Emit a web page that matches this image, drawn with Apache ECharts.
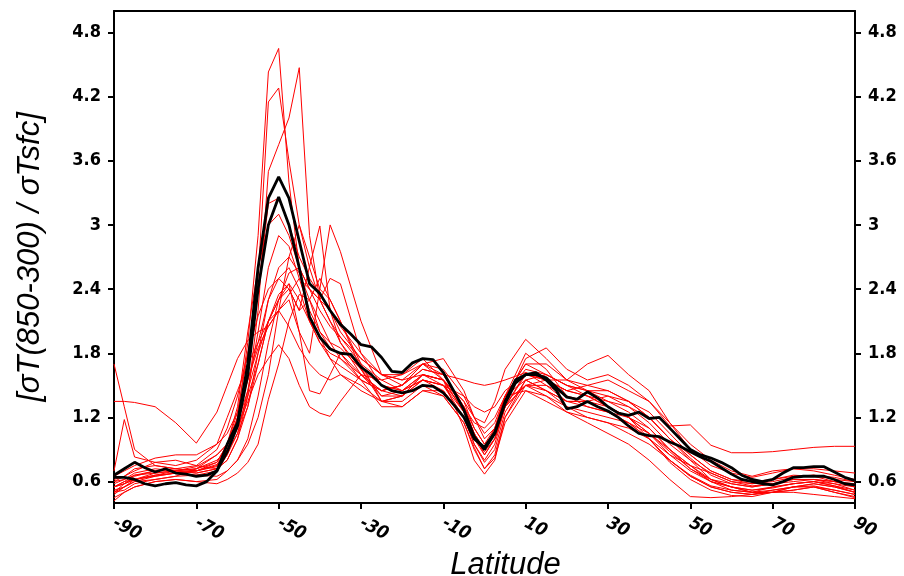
<!DOCTYPE html>
<html><head><meta charset="utf-8">
<script src="https://cdn.jsdelivr.net/npm/echarts@6/dist/echarts.min.js"></script>
<style>html,body{margin:0;padding:0;background:#fff}#c{width:904px;height:576px}</style>
</head><body><div id="c"></div>
<script>
// latitude grid of the model curves (red)
const latR = [-90,-87.5,-85,-80,-75,-70,-65,-62.5,-60,-57.5,-55,-52.5,-50,-47.5,-45,-42.5,-40,-37.5,-35,-30,-25,-20,-15,-10,-5,-2.5,0,2.5,5,10,15,20,25,30,35,40,45,50,55,60,65,70,75,80,85,90];
const r1 = [0.55,0.6,0.66,0.7,0.72,0.7,0.74, 0.9,1.2,1.9,2.9,4.43,4.65,3.4,2.6,2.1,1.9,1.75,1.68, 1.55,1.45,1.5,1.65,1.6,1.3,1.05,0.85,1.0,1.3, 1.62,1.5,1.35,1.3,1.25,1.2,1.05,0.85,0.7,0.6,0.55,0.5,0.52,0.55,0.56,0.52,0.48];
const r2 = [0.62,0.65,0.7,0.78,0.8,0.75,0.72, 0.8,1.0,1.4,2.2,3.5,3.75,4.0,4.47,2.9,2.3,2.1,1.95, 1.7,1.55,1.6,1.7,1.55,1.25,1.0,0.9,1.1,1.4, 1.55,1.6,1.5,1.45,1.35,1.3,1.2,1.0,0.85,0.7,0.62,0.58,0.6,0.64,0.66,0.62,0.6];
const r3 = [0.5,0.52,0.58,0.62,0.65,0.66,0.7, 0.85,1.15,1.7,2.5,4.15,4.28,3.6,3.0,2.6,2.3,2.1,1.9, 1.65,1.4,1.45,1.6,1.55,1.35,1.1,0.95,1.05,1.35, 1.5,1.45,1.3,1.2,1.15,1.1,1.0,0.8,0.65,0.55,0.5,0.48,0.5,0.52,0.55,0.5,0.46];
const r4 = [0.6,0.65,0.72,0.75,0.72,0.7,0.75, 0.95,1.3,2.0,2.6,3.0,3.1,2.9,2.6,2.4,2.2,2.05,1.95, 1.75,1.6,1.55,1.6,1.5,1.2,0.95,0.8,0.95,1.3, 1.6,1.55,1.45,1.4,1.3,1.2,1.0,0.85,0.75,0.68,0.6,0.58,0.62,0.66,0.65,0.6,0.55];
const r5 = [0.45,0.5,0.55,0.6,0.62,0.6,0.62, 0.7,0.8,0.95,1.2,1.6,2.2,2.7,3.0,2.7,2.4,2.3,2.1, 1.7,1.35,1.3,1.45,1.4,1.15,0.9,0.72,0.85,1.2, 1.5,1.5,1.4,1.3,1.25,1.15,1.05,0.9,0.75,0.62,0.55,0.5,0.5,0.55,0.58,0.55,0.5];
const r6 = [0.58,0.62,0.66,0.68,0.7,0.72,0.8, 0.9,1.1,1.4,1.7,2.1,2.3,2.4,2.2,2.61,2.99,2.2,1.9, 1.6,1.45,1.4,1.55,1.5,1.25,1.05,0.9,1.05,1.4, 1.7,1.7,1.55,1.5,1.45,1.35,1.25,1.05,0.85,0.7,0.62,0.6,0.62,0.65,0.66,0.64,0.6];
const r7 = [0.52,0.55,0.6,0.65,0.68,0.7,0.78, 0.95,1.2,1.55,1.85,2.05,2.2,2.3,2.0,1.8,2.4,3.0,2.75, 2.1,1.6,1.5,1.7,1.75,1.45,1.2,1.0,1.1,1.35, 1.75,1.85,1.65,1.55,1.6,1.5,1.35,1.15,0.95,0.8,0.7,0.65,0.7,0.72,0.72,0.7,0.68];
const r8 = [0.5,0.55,0.6,0.62,0.65,0.72,0.85, 0.95,1.1,1.35,1.6,1.75,1.88,1.75,1.5,1.3,1.24,1.21,1.35, 1.6,1.55,1.45,1.55,1.5,1.3,1.15,1.1,1.2,1.4, 1.45,1.35,1.25,1.2,1.15,1.05,0.95,0.8,0.65,0.55,0.5,0.48,0.52,0.55,0.55,0.52,0.48];
const r9 = [0.48,0.55,0.62,0.66,0.68,0.7,0.76, 0.88,1.05,1.3,1.7,2.1,2.3,2.45,2.0,1.45,1.42,1.6,1.8, 1.55,1.3,1.3,1.45,1.45,1.2,0.95,0.78,0.9,1.25, 1.55,1.45,1.35,1.35,1.3,1.2,1.1,0.9,0.75,0.6,0.55,0.52,0.54,0.58,0.6,0.56,0.52];
const r10 = [1.7,1.3,0.9,0.75,0.72,0.75,0.9, 1.1,1.4,1.8,2.15,2.4,2.5,2.4,2.2,2.3,2.5,2.3,2.1, 1.65,1.35,1.35,1.5,1.4,1.15,0.92,0.72,0.82,1.15, 1.45,1.4,1.3,1.25,1.2,1.15,1.0,0.8,0.66,0.56,0.52,0.5,0.55,0.58,0.6,0.58,0.55];
const r11 = [1.35,1.35,1.34,1.3,1.15,0.96,1.25, 1.5,1.75,1.92,2.0,2.05,2.2,2.35,2.5,2.4,2.3,2.5,2.45, 1.8,1.5,1.45,1.55,1.5,1.4,1.3,1.25,1.3,1.45, 1.6,1.55,1.45,1.5,1.55,1.45,1.35,1.12,1.13,0.94,0.87,0.87,0.88,0.9,0.92,0.93,0.93];
const r12 = [0.7,1.18,0.83,0.78,0.75,0.8,0.95, 1.2,1.45,1.7,1.9,2.1,2.2,2.05,1.85,1.7,1.6,1.55,1.6, 1.5,1.35,1.4,1.6,1.55,1.3,1.1,0.95,1.1,1.4, 1.8,1.65,1.4,1.35,1.4,1.3,1.15,0.95,0.8,0.68,0.6,0.56,0.58,0.62,0.62,0.6,0.56];
const r13 = [0.42,0.5,0.55,0.6,0.62,0.6,0.58, 0.62,0.68,0.78,0.95,1.37,1.7,2.1,2.35,2.3,2.1,1.9,1.75, 1.55,1.45,1.5,1.7,1.65,1.4,1.2,1.05,1.15,1.4, 1.65,1.6,1.5,1.4,1.35,1.25,1.1,0.9,0.72,0.6,0.52,0.5,0.5,0.52,0.55,0.5,0.45];
const r14 = [0.55,0.58,0.62,0.65,0.68,0.66,0.65, 0.7,0.8,1.0,1.4,1.9,2.3,2.55,2.6,2.4,2.3,2.2,2.0, 1.75,1.6,1.6,1.75,1.55,1.35,1.2,1.15,1.35,1.65, 1.93,1.75,1.55,1.7,1.78,1.6,1.45,1.15,0.9,0.75,0.68,0.64,0.68,0.72,0.7,0.66,0.62];
const r15 = [0.6,0.62,0.68,0.72,0.7,0.68,0.72, 0.85,1.05,1.45,2.0,2.6,2.9,2.8,2.5,2.2,2.0,1.85,1.8, 1.6,1.4,1.4,1.6,1.55,1.1,0.8,0.67,0.8,1.2, 1.55,1.45,1.35,1.35,1.25,1.15,1.0,0.78,0.62,0.52,0.47,0.46,0.5,0.55,0.58,0.55,0.5];
const r16 = [0.65,0.7,0.75,0.82,0.85,0.85,0.95, 1.05,1.25,1.55,1.9,2.3,2.5,2.6,2.4,2.1,1.9,1.8,1.75, 1.6,1.45,1.5,1.65,1.6,1.55,1.52,1.5,1.52,1.55, 1.62,1.55,1.45,1.4,1.3,1.2,1.05,0.88,0.72,0.62,0.58,0.55,0.58,0.62,0.62,0.58,0.52];
const r17 = [0.5,0.58,0.65,0.7,0.7,0.68,0.72, 0.8,1.0,1.3,1.8,2.3,2.6,2.7,2.55,2.3,2.0,1.9,1.85, 1.65,1.5,1.45,1.6,1.55,1.25,1.0,0.85,1.0,1.3, 1.5,1.55,1.55,1.45,1.4,1.35,1.2,1.0,0.8,0.62,0.55,0.52,0.55,0.58,0.6,0.56,0.5];
const r18 = [0.55,0.6,0.62,0.68,0.7,0.72,0.78, 0.95,1.25,1.8,2.4,3.2,3.25,3.0,2.7,2.5,2.35,2.2,2.05, 1.8,1.6,1.55,1.7,1.6,1.3,1.05,0.9,1.05,1.4, 1.7,1.6,1.5,1.45,1.45,1.35,1.2,1.0,0.82,0.66,0.58,0.55,0.58,0.6,0.62,0.6,0.58];
const r19 = [0.55,0.58,0.62,0.66,0.7,0.74,0.85, 0.95,1.15,1.45,1.8,2.1,2.35,2.45,2.3,2.1,1.95,1.75,1.6, 1.45,1.35,1.4,1.55,1.45,1.2,1.0,0.88,1.0,1.3, 1.5,1.4,1.25,1.15,1.05,0.95,0.8,0.62,0.46,0.45,0.46,0.48,0.5,0.5,0.48,0.46,0.44];
const redSeries = [r1,r2,r3,r4,r5,r6,r7,r8,r9,r10,r11,r12,r13,r14,r15,r16,r17,r18,r19];

// latitude grid of the ensemble means (black)
const latB = [-90,-87.5,-85,-82.5,-80,-77.5,-75,-72.5,-70,-67.5,-65,-62.5,-60,-57.5,-55,-52.5,-50,-47.5,-45,-42.5,-40,-37.5,-35,-32.5,-30,-27.5,-25,-22.5,-20,-17.5,-15,-12.5,-10,-7.5,-5,-2.5,0,2.5,5,7.5,10,12.5,15,17.5,20,22.5,25,27.5,30,32.5,35,37.5,40,42.5,45,47.5,50,52.5,55,57.5,60,62.5,65,67.5,70,72.5,75,77.5,80,82.5,85,87.5,90];
const blackA = [0.66,0.72,0.78,0.73,0.69,0.72,0.68,0.67,0.65,0.66,0.7,0.95,1.15,1.7,2.6,3.25,3.45,3.25,2.85,2.45,2.36,2.2,2.07,1.98,1.88,1.86,1.76,1.63,1.62,1.71,1.75,1.74,1.62,1.45,1.27,1.02,0.9,1.05,1.35,1.55,1.6,1.6,1.57,1.48,1.39,1.37,1.44,1.38,1.3,1.24,1.22,1.25,1.19,1.2,1.1,1.0,0.9,0.85,0.82,0.78,0.73,0.66,0.62,0.6,0.62,0.68,0.73,0.73,0.74,0.74,0.69,0.64,0.61];
const blackB = [0.64,0.64,0.62,0.58,0.56,0.58,0.59,0.57,0.56,0.6,0.7,0.88,1.12,1.6,2.4,3.0,3.26,3.0,2.6,2.14,1.95,1.84,1.8,1.79,1.67,1.6,1.5,1.45,1.43,1.45,1.5,1.49,1.43,1.32,1.2,1.0,0.92,1.06,1.33,1.52,1.6,1.62,1.55,1.45,1.28,1.3,1.35,1.3,1.26,1.2,1.12,1.05,1.03,1.02,0.97,0.93,0.88,0.83,0.79,0.73,0.67,0.62,0.6,0.58,0.57,0.6,0.64,0.65,0.65,0.65,0.62,0.58,0.57];

const xTicks = [-90,-70,-50,-30,-10,10,30,50,70,90];
const yTicks = [0.6,1.2,1.8,2.4,3,3.6,4.2,4.8];

const pair = (xs, ys) => xs.map((x, i) => [x, ys[i]]);
const series = [];
redSeries.forEach((s, k) => series.push({
  type: 'line', name: 'model' + (k + 1), data: pair(latR, s), showSymbol: false, symbol: 'none',
  lineStyle: { color: '#ff0000', width: 1 }, z: 2, silent: true, animation: false
}));
[blackA, blackB].forEach((s, k) => series.push({
  type: 'line', name: 'mean' + (k + 1), data: pair(latB, s), showSymbol: false, symbol: 'none',
  lineStyle: { color: '#000000', width: 2.8 }, z: 3, silent: true, animation: false
}));

const narrow = "'DejaVu Sans Condensed', 'Liberation Sans Narrow', 'Liberation Sans', sans-serif";
const lblFont = { fontFamily: narrow, fontWeight: 'bold', fontSize: 18, color: '#000' };
const axLine = { show: true, onZero: false, lineStyle: { color: '#000', width: 2 } };
const fmt = v => String(Math.round(v * 10) / 10);

const chart = echarts.init(document.getElementById('c'), null, { renderer: 'canvas' });
chart.setOption({
  animation: false,
  backgroundColor: '#fff',
  grid: { left: 114, right: 49, top: 11, bottom: 73, containLabel: false, outerBoundsMode: 'none' },
  xAxis: [{
    type: 'value', min: -90, max: 90, interval: 20, position: 'bottom',
    axisLine: axLine,
    axisTick: { show: true, inside: false, length: 6, lineStyle: { color: '#000', width: 2 } },
    axisLabel: Object.assign({}, lblFont, { fontStyle: 'italic', fontSize: 18, rotate: -28, margin: 19,
      customValues: xTicks }),
    splitLine: { show: false },
    name: 'Latitude', nameLocation: 'middle', nameGap: 41,
    nameTextStyle: { fontFamily: 'Liberation Sans', fontStyle: 'italic', fontSize: 31, color: '#000',
      padding: [0, 0, 0, 42] }
  }, {
    type: 'value', min: -90, max: 90, position: 'top',
    axisLine: axLine, axisTick: { show: false }, axisLabel: { show: false }, splitLine: { show: false }
  }],
  yAxis: [{
    type: 'value', min: 0.4, max: 5.0, position: 'left',
    axisLine: axLine,
    axisTick: { show: true, inside: false, length: 6, lineStyle: { color: '#000', width: 2 }, customValues: yTicks },
    axisLabel: Object.assign({}, lblFont, { margin: 13, customValues: yTicks, formatter: fmt }),
    splitLine: { show: false },
    name: '[σT(850-300) / σTsfc]', nameLocation: 'middle', nameGap: 68,
    nameTextStyle: { fontFamily: 'Liberation Sans', fontStyle: 'italic', fontSize: 31, color: '#000' }
  }, {
    type: 'value', min: 0.4, max: 5.0, position: 'right',
    axisLine: axLine,
    axisTick: { show: true, inside: false, length: 6, lineStyle: { color: '#000', width: 2 }, customValues: yTicks },
    axisLabel: Object.assign({}, lblFont, { margin: 13, customValues: yTicks, formatter: fmt }),
    splitLine: { show: false }
  }],
  series: series
});
</script></body></html>
